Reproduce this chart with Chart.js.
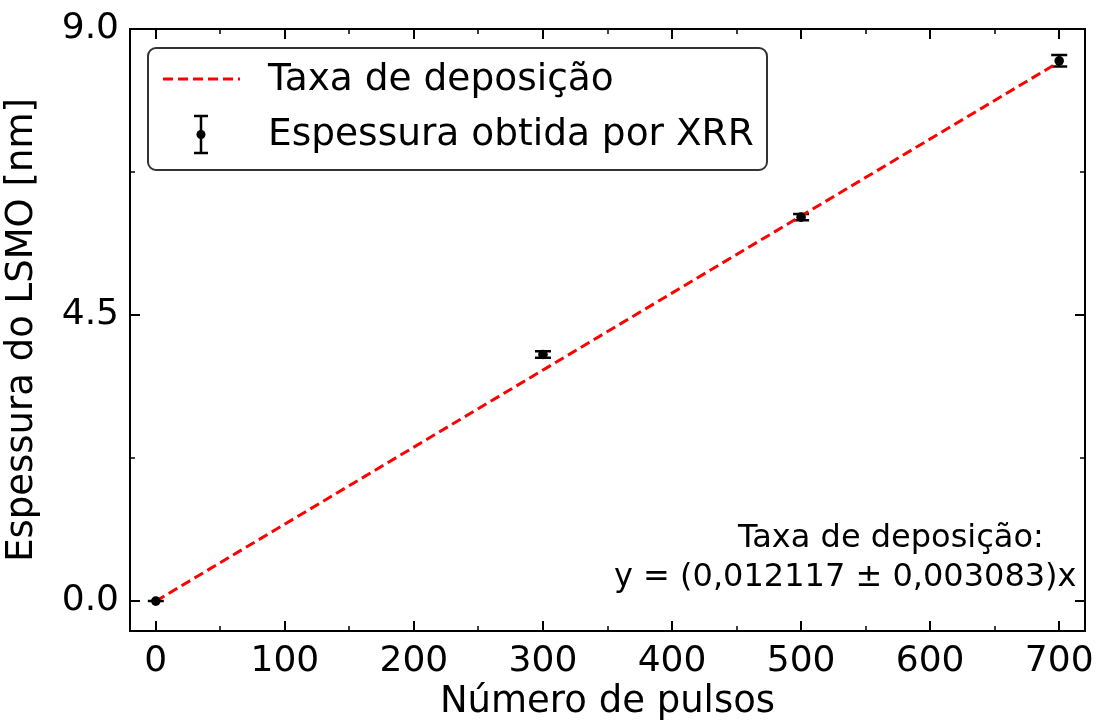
<!DOCTYPE html>
<html>
<head>
<meta charset="utf-8">
<script src="https://cdn.jsdelivr.net/npm/chart.js@4.4.1/dist/chart.umd.min.js"></script>
<style>
  html, body { margin: 0; padding: 0; background: #ffffff; }
  #wrap { width: 1098px; height: 726px; }
</style>
</head>
<body>
<div id="wrap"><canvas id="c" width="1098" height="726"></canvas></div>
<script>
// ---- data ----
const pulses = [0, 300, 500, 700];
const thickness = [0.0, 3.88, 6.04, 8.50];
const thicknessErr = [0.0, 0.05, 0.05, 0.09];
const fitX = [0, 700];
const fitY = [0.0, 8.482];
const xTickValues = [0, 100, 200, 300, 400, 500, 600, 700];
const xMinorValues = [50, 150, 250, 350, 450, 550, 650];
const yTickValues = [0.0, 4.5, 9.0];
const yMinorValues = [2.25, 6.75];
const legendLabels = ['Taxa de deposição', 'Espessura obtida por XRR'];
const annotationLines = ['Taxa de deposição:', 'y = (0,012117 ± 0,003083)x'];
const xTitle = 'Número de pulsos';
const yTitle = 'Espessura do LSMO [nm]';

const FONT = "'DejaVu Sans', sans-serif";

const framePlugin = {
  id: 'frame',
  beforeDatasetsDraw(chart) {
    const ctx = chart.ctx, xs = chart.scales.x, ys = chart.scales.y;
    ctx.save();
    ctx.strokeStyle = '#000';
    ctx.lineWidth = 2.5;
    for (let i = 0; i < pulses.length; i++) {
      const px = xs.getPixelForValue(pulses[i]);
      const y1 = ys.getPixelForValue(thickness[i] - thicknessErr[i]);
      const y2 = ys.getPixelForValue(thickness[i] + thicknessErr[i]);
      ctx.beginPath();
      ctx.moveTo(px, y1); ctx.lineTo(px, y2);
      ctx.moveTo(px - 8, y1); ctx.lineTo(px + 8, y1);
      ctx.moveTo(px - 8, y2); ctx.lineTo(px + 8, y2);
      ctx.stroke();
    }
    ctx.restore();
  },
  afterDraw(chart) {
    const ctx = chart.ctx, a = chart.chartArea, xs = chart.scales.x, ys = chart.scales.y;
    ctx.save();
    ctx.strokeStyle = '#000';
    ctx.lineWidth = 2;
    ctx.strokeRect(a.left, a.top, a.right - a.left, a.bottom - a.top);
    const tick = (vals, len, horiz) => {
      ctx.beginPath();
      vals.forEach(v => {
        if (horiz) {
          const p = Math.round(xs.getPixelForValue(v));
          ctx.moveTo(p, a.bottom); ctx.lineTo(p, a.bottom - len);
          ctx.moveTo(p, a.top); ctx.lineTo(p, a.top + len);
        } else {
          const p = Math.round(ys.getPixelForValue(v));
          ctx.moveTo(a.left, p); ctx.lineTo(a.left + len, p);
          ctx.moveTo(a.right, p); ctx.lineTo(a.right - len, p);
        }
      });
      ctx.stroke();
    };
    ctx.lineWidth = 2;
    tick(xTickValues, 10, true);
    tick(yTickValues, 10, false);
    ctx.lineWidth = 1.5;
    tick(xMinorValues, 5, true);
    tick(yMinorValues, 5, false);

    // legend
    const lx = 148, ly = 48, lw = 619, lh = 122, r = 8;
    ctx.beginPath();
    ctx.moveTo(lx + r, ly);
    ctx.arcTo(lx + lw, ly, lx + lw, ly + lh, r);
    ctx.arcTo(lx + lw, ly + lh, lx, ly + lh, r);
    ctx.arcTo(lx, ly + lh, lx, ly, r);
    ctx.arcTo(lx, ly, lx + lw, ly, r);
    ctx.closePath();
    ctx.fillStyle = 'rgba(255,255,255,0.8)';
    ctx.fill();
    ctx.strokeStyle = '#333';
    ctx.lineWidth = 2;
    ctx.stroke();

    ctx.strokeStyle = '#ff0000';
    ctx.lineWidth = 3;
    ctx.setLineDash([10, 5]);
    ctx.beginPath();
    ctx.moveTo(163, 79); ctx.lineTo(240, 79);
    ctx.stroke();
    ctx.setLineDash([]);
    ctx.strokeStyle = '#000';
    ctx.lineWidth = 2.5;
    ctx.beginPath();
    ctx.moveTo(201, 116); ctx.lineTo(201, 153);
    ctx.moveTo(194, 116); ctx.lineTo(208, 116);
    ctx.moveTo(194, 153); ctx.lineTo(208, 153);
    ctx.stroke();
    ctx.fillStyle = '#000';
    ctx.beginPath(); ctx.arc(201, 134.5, 4.5, 0, Math.PI * 2); ctx.fill();

    ctx.font = '37.5px ' + FONT;
    ctx.textBaseline = 'middle';
    ctx.textAlign = 'left';
    ctx.fillText(legendLabels[0], 268, 80);
    ctx.fillText(legendLabels[1], 268, 135);

    ctx.font = '32px ' + FONT;
    ctx.fillText(annotationLines[0], 738, 539);
    ctx.fillText(annotationLines[1], 614, 578);
    ctx.restore();
  }
};

new Chart(document.getElementById('c'), {
  type: 'scatter',
  data: {
    datasets: [
      {
        label: legendLabels[0],
        data: fitX.map((x, i) => ({ x: x, y: fitY[i] })),
        showLine: true,
        borderColor: '#ff0000',
        borderWidth: 3,
        borderDash: [10, 5],
        pointRadius: 0,
        fill: false,
        order: 2
      },
      {
        label: legendLabels[1],
        data: pulses.map((x, i) => ({ x: x, y: thickness[i] })),
        showLine: false,
        pointRadius: 4.8,
        pointBackgroundColor: '#000',
        pointBorderColor: '#000',
        pointBorderWidth: 0,
        order: 1
      }
    ]
  },
  options: {
    responsive: false,
    animation: false,
    events: [],
    layout: { autoPadding: false, padding: { top: 29, right: 13, left: 0, bottom: 0 } },
    plugins: { legend: { display: false }, tooltip: { enabled: false } },
    scales: {
      x: {
        type: 'linear',
        min: -20, max: 720,
        afterBuildTicks: s => { s.ticks = xTickValues.map(v => ({ value: v })); },
        afterFit: s => { s.height = 95; s.paddingLeft = 0; s.paddingRight = 0; },
        grid: { display: false, drawTicks: false },
        border: { display: false },
        ticks: { color: '#000', font: { family: FONT, size: 36 }, padding: 9, maxRotation: 0, autoSkip: false },
        title: { display: true, text: xTitle, color: '#000', font: { family: FONT, size: 37 }, padding: { top: 0, bottom: 1 } }
      },
      y: {
        type: 'linear',
        min: -0.47, max: 9.0,
        afterBuildTicks: s => { s.ticks = yTickValues.map(v => ({ value: v })); },
        afterFit: s => { s.width = 130; s.paddingTop = 0; s.paddingBottom = 0; },
        grid: { display: false, drawTicks: false },
        border: { display: false },
        ticks: { color: '#000', font: { family: FONT, size: 36 }, padding: 11, autoSkip: false, callback: v => Number(v).toFixed(1) },
        title: { display: true, text: yTitle, color: '#000', font: { family: FONT, size: 37 }, padding: { top: 0, bottom: 0 } }
      }
    }
  },
  plugins: [framePlugin]
});
</script>
</body>
</html>
